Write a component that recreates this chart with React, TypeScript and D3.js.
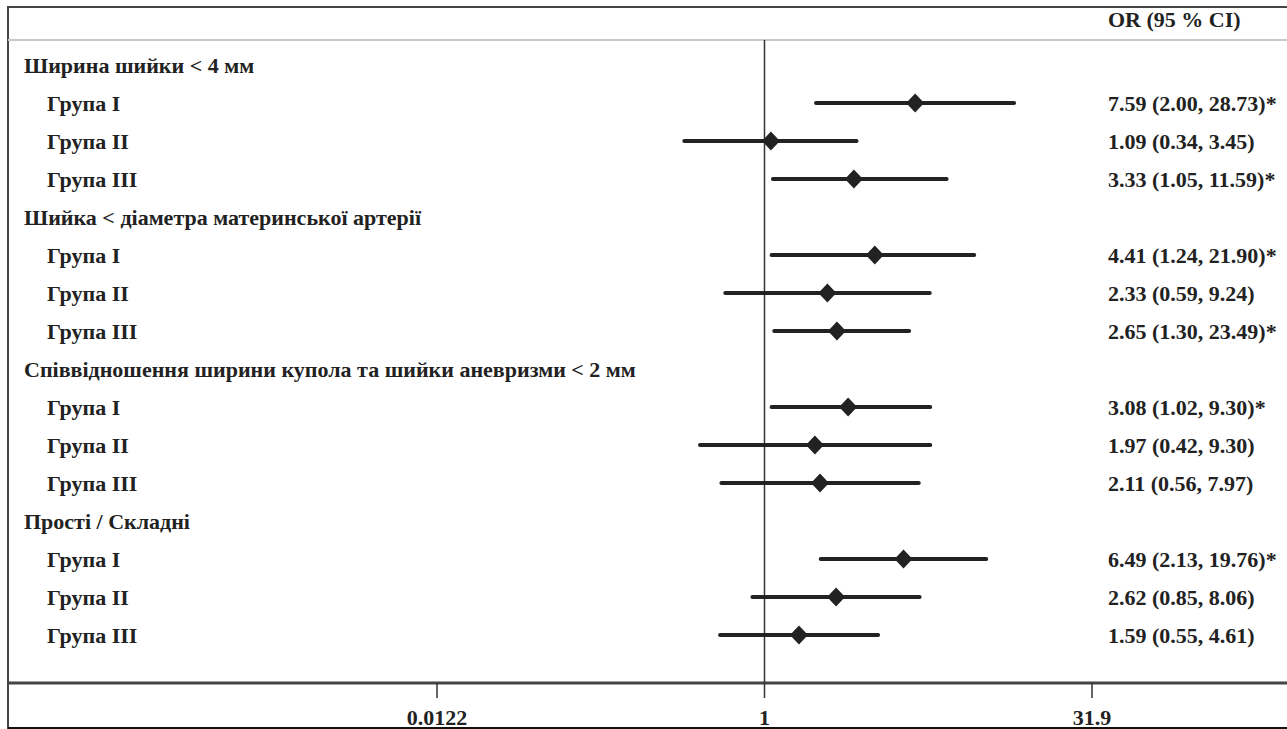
import React from "react";
import * as d3 from "d3";

const sections = [
  "Ширина шийки < 4 мм",
  "Шийка < діаметра материнської артерії",
  "Співвідношення ширини купола та шийки аневризми < 2 мм",
  "Прості / Складні",
];
const groups = ["Група I", "Група II", "Група III"];
const orValues = [7.59, 1.09, 3.33, 4.41, 2.33, 2.65, 3.08, 1.97, 2.11, 6.49, 2.62, 1.59];
const ciLow = [2.0, 0.34, 1.12, 1.1, 0.59, 1.14, 1.1, 0.42, 0.56, 2.13, 0.85, 0.55];
const ciHigh = [28.73, 3.45, 11.59, 16.8, 9.24, 7.0, 9.3, 9.3, 7.97, 19.76, 8.06, 4.61];
const orLabels = [
  "7.59 (2.00, 28.73)*",
  "1.09 (0.34, 3.45)",
  "3.33 (1.05, 11.59)*",
  "4.41 (1.24, 21.90)*",
  "2.33 (0.59, 9.24)",
  "2.65 (1.30, 23.49)*",
  "3.08 (1.02, 9.30)*",
  "1.97 (0.42, 9.30)",
  "2.11 (0.56, 7.97)",
  "6.49 (2.13, 19.76)*",
  "2.62 (0.85, 8.06)",
  "1.59 (0.55, 4.61)",
];
const tickValues = [0.0122, 1, 1 / 0.0122];
const tickLabels = ["0.0122", "1", "31.9"];
const headerLabel = "OR (95 % CI)";

const W = 1287;
const H = 729;
const FONT = "'Liberation Serif', 'Times New Roman', serif";
const FS = 22;

export default function App() {
  const x = d3.scaleLog().domain([0.0122, 1 / 0.0122]).range([437, 1092]);
  const rowCount = sections.length * (groups.length + 1);
  const y = d3.scalePoint<number>().domain(d3.range(rowCount)).range([65, 635]);

  type Row = { kind: "section" | "group"; text: string; idx: number; row: number };
  const rows: Row[] = [];
  let r = 0;
  sections.forEach((s, si) => {
    rows.push({ kind: "section", text: s, idx: si, row: r++ });
    groups.forEach((g, gi) => {
      rows.push({ kind: "group", text: g, idx: si * groups.length + gi, row: r++ });
    });
  });

  const axisY = 683;
  const diamond = (cx: number, cy: number) => {
    const p = d3.path();
    p.moveTo(cx, cy - 9.5);
    p.lineTo(cx + 9, cy);
    p.lineTo(cx, cy + 9.5);
    p.lineTo(cx - 9, cy);
    p.closePath();
    return p.toString();
  };

  return (
    <svg
      width={W}
      height={H}
      style={{ position: "absolute", left: 0, top: 0, background: "#fff" }}
      fontFamily={FONT}
      fontWeight="bold"
    >
      {/* borders */}
      <line x1={8} x2={W} y1={7} y2={7} stroke="#444" strokeWidth={2} />
      <line x1={8} x2={8} y1={6} y2={729} stroke="#444" strokeWidth={2} />
      <line x1={8} x2={W} y1={40} y2={40} stroke="#c8c8c8" strokeWidth={2} />
      <line x1={8} x2={W} y1={axisY} y2={axisY} stroke="#444" strokeWidth={3} />
      <line x1={8} x2={W} y1={728} y2={728} stroke="#111" strokeWidth={2} />

      {/* reference line */}
      <line x1={x(1)} x2={x(1)} y1={40} y2={axisY} stroke="#333" strokeWidth={1.5} />

      {/* header */}
      <text x={1108} y={27} fontSize={FS} fill="#222">
        {headerLabel}
      </text>

      {rows.map((row) =>
        row.kind === "section" ? (
          <text key={"s" + row.row} x={24} y={y(row.row)! + 8} fontSize={FS} fill="#222">
            {row.text}
          </text>
        ) : (
          <g key={"g" + row.row}>
            <text x={47} y={y(row.row)! + 8} fontSize={FS} fill="#222">
              {row.text}
            </text>
            <line
              x1={x(ciLow[row.idx])}
              x2={x(ciHigh[row.idx])}
              y1={y(row.row)!}
              y2={y(row.row)!}
              stroke="#222"
              strokeWidth={4}
              strokeLinecap="round"
            />
            <path d={diamond(x(orValues[row.idx]), y(row.row)!)} fill="#222" />
            <text x={1108} y={y(row.row)! + 8} fontSize={FS} fill="#222">
              {orLabels[row.idx]}
            </text>
          </g>
        )
      )}

      {/* axis ticks */}
      {tickValues.map((v, i) => (
        <g key={"t" + i}>
          <line x1={x(v)} x2={x(v)} y1={axisY} y2={axisY + 15} stroke="#333" strokeWidth={1.5} />
          <text x={x(v)} y={725} fontSize={FS} textAnchor="middle" fill="#222">
            {tickLabels[i]}
          </text>
        </g>
      ))}
    </svg>
  );
}
